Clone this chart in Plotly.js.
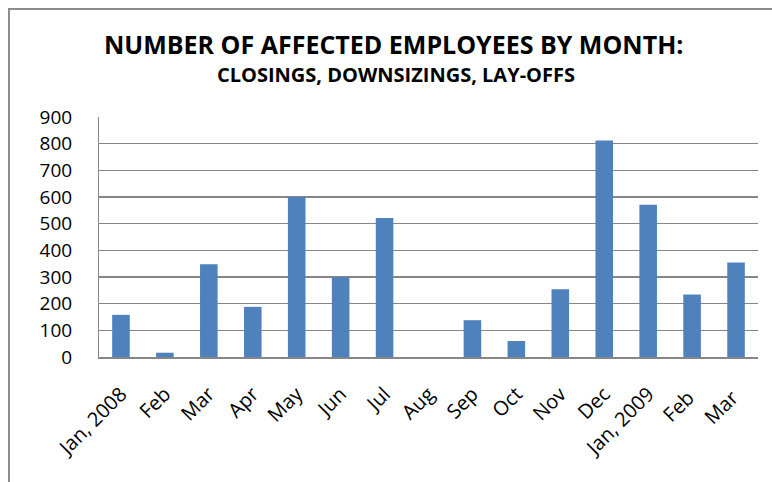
<!DOCTYPE html>
<html>
<head>
<meta charset="utf-8">
<script src="https://cdn.plot.ly/plotly-3.0.1.min.js"></script>
<style>
  html, body { margin: 0; padding: 0; background: #fff; }
  #wrap { position: relative; width: 772px; height: 482px; overflow: hidden; }
  #chart { position: absolute; left: 0; top: 0; width: 772px; height: 482px; }
  #frame { position: absolute; left: 8px; top: 8px; width: 780px; height: 490px;
           border-left: 2px solid #8c8c8c; border-top: 2px solid #8c8c8c; pointer-events: none; }
</style>
</head>
<body>
<div id="wrap">
  <div id="chart"></div>
  <div id="frame"></div>
</div>
<script>
const months = ["Jan, 2008", "Feb", "Mar", "Apr", "May", "Jun", "Jul", "Aug",
                "Sep", "Oct", "Nov", "Dec", "Jan, 2009", "Feb ", "Mar "];
const affected = [158, 16, 348, 188, 600, 300, 521, 0, 138, 60, 254, 812, 571, 234, 354];
const yTicks = [0, 100, 200, 300, 400, 500, 600, 700, 800, 900];
const titleText = "NUMBER OF AFFECTED EMPLOYEES BY MONTH:";
const subtitleText = "CLOSINGS, DOWNSIZINGS, LAY-OFFS";

const trace = {
  type: "bar",
  x: months,
  y: affected,
  marker: { color: "#4F81BD", line: { width: 0 } },
  hoverinfo: "x+y"
};

const layout = {
  width: 772,
  height: 482,
  margin: { l: 99, r: 14, t: 117, b: 125 },
  paper_bgcolor: "#ffffff",
  plot_bgcolor: "#ffffff",
  showlegend: false,
  bargap: 0.6,
  title: {
    text: "<b>" + titleText + "</b>",
    font: { family: "Open Sans, Arial, sans-serif", size: 25, color: "#000000" },
    x: 0.51,
    xanchor: "center",
    xref: "container",
    yref: "container",
    y: 1 - 45 / 482,
    yanchor: "middle"
  },
  annotations: [{
    text: "<b>" + subtitleText + "</b>",
    font: { family: "Open Sans, Arial, sans-serif", size: 20, color: "#000000" },
    xref: "paper",
    yref: "paper",
    x: (396 - 99) / 659,
    y: (357 - 74) / 240,
    xanchor: "center",
    yanchor: "middle",
    showarrow: false
  }],
  xaxis: {
    type: "category",
    tickangle: -45,
    tickfont: { family: "Open Sans, Arial, sans-serif", size: 20, color: "#000000" },
    showline: true,
    linecolor: "#868686",
    linewidth: 1.5,
    ticks: "",
    showgrid: false,
    ticklabelstandoff: 16,
    fixedrange: true
  },
  yaxis: {
    range: [0, 900],
    tickvals: yTicks,
    ticktext: yTicks.map(String),
    tickfont: { family: "Open Sans, Arial, sans-serif", size: 19, color: "#000000" },
    showline: true,
    linecolor: "#868686",
    linewidth: 1,
    showgrid: true,
    gridcolor: "#868686",
    gridwidth: 1.5,
    zeroline: false,
    ticks: "",
    ticklabelstandoff: 22,
    fixedrange: true
  }
};

Plotly.newPlot("chart", [trace], layout, { displayModeBar: false, staticPlot: true });
</script>
</body>
</html>
